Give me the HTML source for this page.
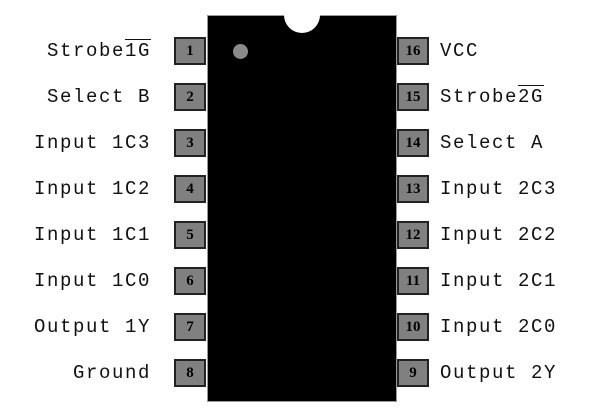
<!DOCTYPE html>
<html><head><style>
body{margin:0;width:600px;height:418px;background:#fff;position:relative;overflow:hidden;font-family:"Liberation Mono",monospace;}
.chip{position:absolute;left:207px;top:15px;width:190px;height:387px;background:#000;border:1px solid #999;box-sizing:border-box;}
.notch{position:absolute;left:284px;top:-3px;width:36px;height:36px;border-radius:50%;background:#fff;}
.dot{position:absolute;left:233px;top:44px;width:15px;height:15px;border-radius:50%;background:#8a8a8a;}
.pin{position:absolute;width:32px;height:28px;background:#808080;border:2px solid #222;box-sizing:border-box;font:bold 15px "Liberation Serif",serif;color:#000;text-align:center;line-height:24px;}
.l{position:absolute;font-size:19px;letter-spacing:1.6px;line-height:20px;white-space:nowrap;color:#111;}
.ll{right:449px;text-align:right;}
.rl{left:440px;}
.ov{text-decoration:overline;}
</style></head><body>
<div class="chip"></div><div class="notch"></div><div class="dot"></div>
<div class="pin" style="left:174px;top:37px">1</div>
<div class="pin" style="left:174px;top:83px">2</div>
<div class="pin" style="left:174px;top:129px">3</div>
<div class="pin" style="left:174px;top:175px">4</div>
<div class="pin" style="left:174px;top:221px">5</div>
<div class="pin" style="left:174px;top:267px">6</div>
<div class="pin" style="left:174px;top:313px">7</div>
<div class="pin" style="left:174px;top:359px">8</div>
<div class="pin" style="left:397px;top:37px">16</div>
<div class="pin" style="left:397px;top:83px">15</div>
<div class="pin" style="left:397px;top:129px">14</div>
<div class="pin" style="left:397px;top:175px">13</div>
<div class="pin" style="left:397px;top:221px">12</div>
<div class="pin" style="left:397px;top:267px">11</div>
<div class="pin" style="left:397px;top:313px">10</div>
<div class="pin" style="left:397px;top:359px">9</div>
<div class="l ll" style="top:41px">Strobe<span class="ov">1G</span></div>
<div class="l ll" style="top:87px">Select B</div>
<div class="l ll" style="top:133px">Input 1C3</div>
<div class="l ll" style="top:179px">Input 1C2</div>
<div class="l ll" style="top:225px">Input 1C1</div>
<div class="l ll" style="top:271px">Input 1C0</div>
<div class="l ll" style="top:317px">Output 1Y</div>
<div class="l ll" style="top:363px">Ground</div>
<div class="l rl" style="top:41px">VCC</div>
<div class="l rl" style="top:87px">Strobe<span class="ov">2G</span></div>
<div class="l rl" style="top:133px">Select A</div>
<div class="l rl" style="top:179px">Input 2C3</div>
<div class="l rl" style="top:225px">Input 2C2</div>
<div class="l rl" style="top:271px">Input 2C1</div>
<div class="l rl" style="top:317px">Input 2C0</div>
<div class="l rl" style="top:363px">Output 2Y</div>
</body></html>
